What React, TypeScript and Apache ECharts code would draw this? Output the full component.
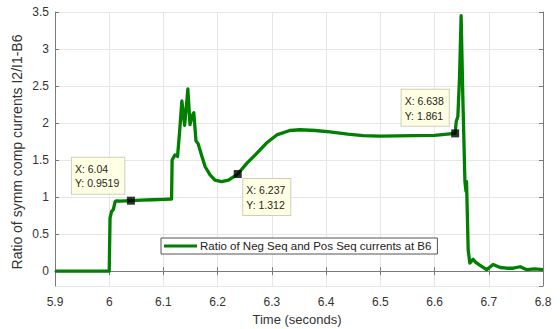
import React, { useEffect, useRef } from "react";
import * as echarts from "echarts";

// Time samples (s) and I2/I1 ratio at bus B6
const times = [
  5.9, 6.0, 6.0015, 6.0045, 6.0075, 6.011, 6.014, 6.02, 6.04, 6.06, 6.08, 6.1,
  6.115, 6.116, 6.121, 6.126, 6.13, 6.134, 6.139, 6.142, 6.145, 6.149, 6.153,
  6.156, 6.16, 6.164, 6.171, 6.177, 6.186, 6.195, 6.207, 6.22, 6.237, 6.254,
  6.272, 6.29, 6.309, 6.333, 6.352, 6.38, 6.407, 6.44, 6.468, 6.5, 6.561, 6.6,
  6.638, 6.64, 6.643, 6.646, 6.649, 6.652, 6.656, 6.658, 6.659, 6.662, 6.665,
  6.671, 6.676, 6.684, 6.696, 6.708, 6.721, 6.733, 6.745, 6.758, 6.77, 6.785,
  6.8,
];
const ratios = [
  0, 0, 0.72, 0.81, 0.83, 0.94, 0.95, 0.945, 0.9519, 0.96, 0.965, 0.97,
  0.975, 1.5, 1.57, 1.55, 1.9, 2.3, 1.97, 2.2, 2.46, 1.98, 2.1,
  2.14, 1.76, 1.72, 1.55, 1.41, 1.3, 1.23, 1.21, 1.23, 1.312, 1.46,
  1.59, 1.73, 1.84, 1.9, 1.91, 1.9, 1.88, 1.85, 1.83, 1.825, 1.83, 1.835,
  1.861, 2.02, 2.09, 2.6, 3.45, 2.4, 1.21, 1.08, 1.21, 0.29, 0.11,
  0.16, 0.12, 0.08, 0.02, 0.09, 0.05, 0.04, 0.04, 0.06, 0.02, 0.03,
  0.02,
];

// Data tips
const tipX = [6.04, 6.237, 6.638];
const tipY = [0.9519, 1.312, 1.861];

const seriesName = "Ratio of Neg Seq and Pos Seq currents at B6";
const xTitle = "Time (seconds)";
const yTitle = "Ratio of symm comp currents I2/I1-B6";

// Offset of each tip box (top-left corner) from its marker, in px
const tipOffsets = [
  [-59, -43],
  [5.5, 5],
  [-53.5, -43.5],
];

const FONT = "'Liberation Sans', Arial, Helvetica, sans-serif";
const GREEN = "#008000";
const AXIS = "#7a7a7a";
const GRID = "#e6e6e6";
const LABEL = "#333333";

const isHalfStep = (v: number) => Math.abs(v * 2 - Math.round(v * 2)) < 1e-6;

export default function App() {
  const ref = useRef<HTMLDivElement>(null);

  useEffect(() => {
    if (!ref.current) return;
    const chart = echarts.init(ref.current, null, { renderer: "svg" });

    const lineData = times.map((t, i) => [t, ratios[i]]);
    const tipData = tipX.map((t, i) => [t, tipY[i]]);

    const xBase = {
      type: "value" as const,
      min: 5.9,
      max: 6.8,
      interval: 0.1,
    };
    const yBase = {
      type: "value" as const,
      min: -0.2,
      max: 3.5,
      splitNumber: 7,
    };

    chart.setOption({
      animation: false,
      textStyle: { fontFamily: FONT },
      grid: { left: 55, right: 17, top: 12, bottom: 43, containLabel: false },
      xAxis: [
        {
          ...xBase,
          position: "bottom",
          axisLine: { show: true, lineStyle: { color: AXIS, width: 1 } },
          axisTick: { show: true, inside: true, length: 4, lineStyle: { color: AXIS } },
          axisLabel: { color: LABEL, fontSize: 12, margin: 10, fontFamily: FONT },
          splitLine: { show: true, lineStyle: { color: GRID, width: 1 } },
        },
        {
          ...xBase,
          position: "top",
          axisLine: { show: true, lineStyle: { color: AXIS, width: 1 } },
          axisTick: { show: true, inside: true, length: 4, lineStyle: { color: AXIS } },
          axisLabel: { show: false },
          splitLine: { show: false },
        },
      ],
      yAxis: [
        {
          ...yBase,
          position: "left",
          axisLine: { show: true, lineStyle: { color: AXIS, width: 1 } },
          axisTick: { show: true, inside: true, length: 4, lineStyle: { color: AXIS } },
          axisLabel: {
            color: LABEL,
            fontSize: 12,
            margin: 6,
            fontFamily: FONT,
            showMinLabel: false,
            formatter: (v: number) => (isHalfStep(v) ? String(Math.round(v * 10) / 10) : ""),
          },
          splitLine: { show: true, lineStyle: { color: GRID, width: 1 } },
        },
        {
          ...yBase,
          position: "right",
          axisLine: { show: true, lineStyle: { color: AXIS, width: 1 } },
          axisTick: { show: true, inside: true, length: 4, lineStyle: { color: AXIS } },
          axisLabel: { show: false },
          splitLine: { show: false },
        },
      ],
      legend: {
        show: true,
        left: 161,
        top: 238,
        orient: "horizontal",
        backgroundColor: "#ffffff",
        borderColor: "#555555",
        borderWidth: 1,
        borderRadius: 0,
        padding: [2, 6, 2, 3],
        itemWidth: 33,
        itemHeight: 3,
        data: [{ name: seriesName, icon: "rect" }],
        textStyle: { color: "#222222", fontSize: 11.5, fontFamily: FONT, padding: [0, 0, 0, -2] },
      },
      series: [
        {
          name: seriesName,
          type: "line",
          xAxisIndex: 0,
          yAxisIndex: 0,
          data: lineData,
          showSymbol: false,
          symbol: "none",
          lineStyle: { color: GREEN, width: 3.3, join: "round" },
          itemStyle: { color: GREEN },
          z: 2,
        },
        {
          name: "tips",
          type: "scatter",
          xAxisIndex: 0,
          yAxisIndex: 0,
          data: tipData,
          symbol: "rect",
          symbolSize: 8,
          itemStyle: { color: "#000000" },
          z: 3,
        },
      ],
    });

    const tipGraphics = tipX.map((t, i) => {
      const [px, py] = chart.convertToPixel({ xAxisIndex: 0, yAxisIndex: 0 }, [t, tipY[i]]) as number[];
      return {
        type: "text",
        x: px + tipOffsets[i][0],
        y: py + tipOffsets[i][1],
        z: 100,
        style: {
          text: `X: ${t}\nY: ${tipY[i]}`,
          fontFamily: FONT,
          fontSize: 10.5,
          lineHeight: 14.5,
          fill: "#262626",
          backgroundColor: "#ffffe3",
          borderColor: "#cfcfb8",
          borderWidth: 1,
          padding: [4, 5, 3, 3],
          align: "left",
          verticalAlign: "top",
        },
      };
    });

    chart.setOption({
      graphic: [
        {
          type: "text",
          x: 17,
          y: 152,
          rotation: Math.PI / 2,
          z: 50,
          style: {
            text: yTitle,
            fontFamily: FONT,
            fontSize: 14,
            fill: LABEL,
            align: "center",
            verticalAlign: "middle",
          },
        },
        {
          type: "text",
          x: 297,
          y: 319,
          z: 50,
          style: {
            text: xTitle,
            fontFamily: FONT,
            fontSize: 13,
            fill: LABEL,
            align: "center",
            verticalAlign: "middle",
          },
        },
        ...tipGraphics,
      ],
    });

    return () => chart.dispose();
  }, []);

  return (
    <div
      ref={ref}
      style={{ position: "fixed", left: 0, top: 0, width: 560, height: 329, background: "#ffffff" }}
    />
  );
}
